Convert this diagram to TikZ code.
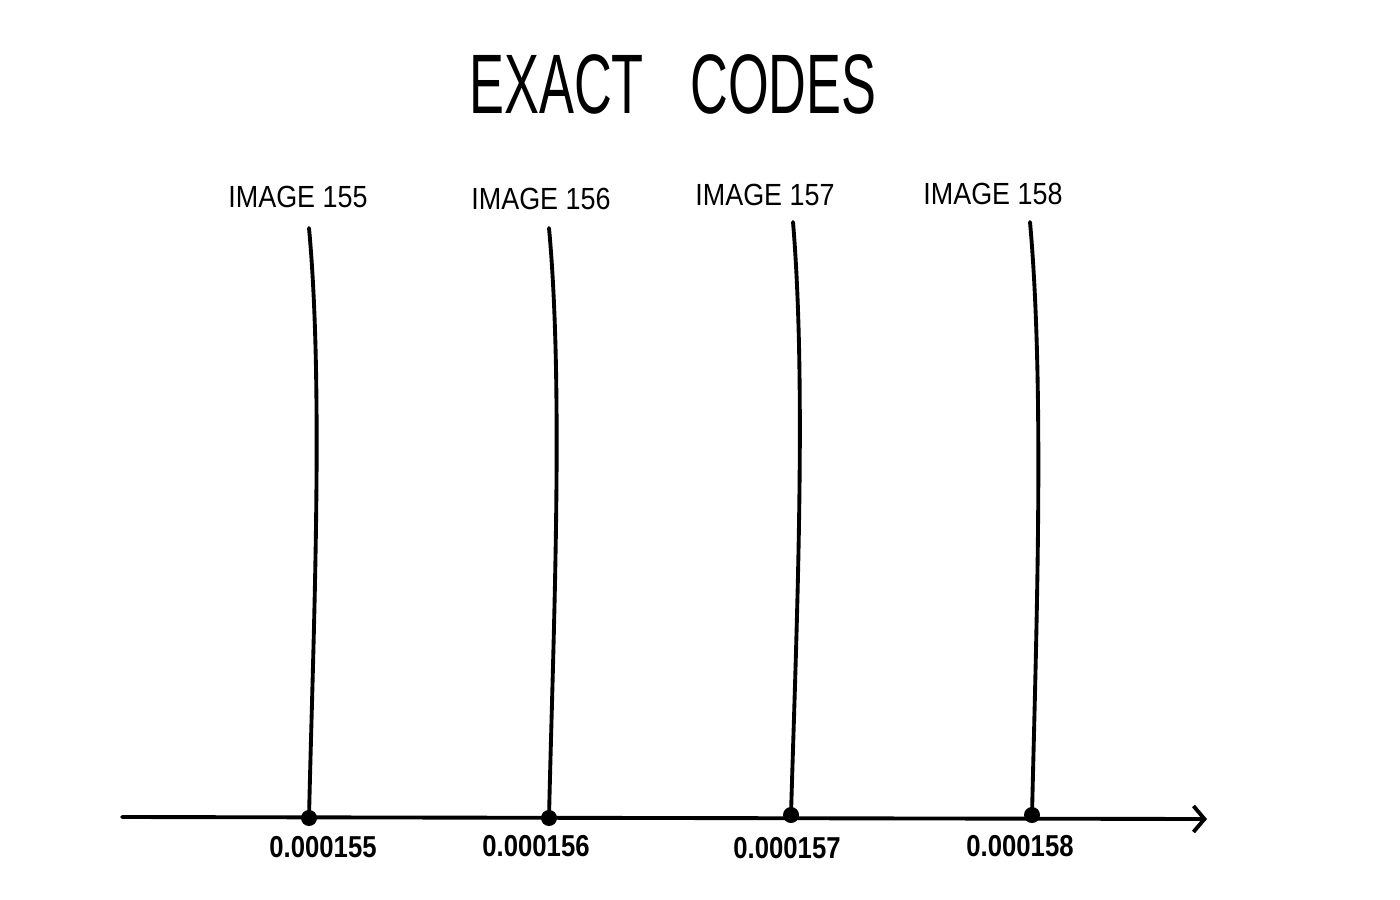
\documentclass[tikz,border=0pt]{standalone}
\usepackage{fontspec}
\setmainfont{Liberation Sans}
\usetikzlibrary{arrows.meta}
\tikzset{
  stroke/.style={line width=1.1pt, line cap=round, black},
  toplabel/.style={inner sep=0pt, font=\fontsize{8.7pt}{10pt}\selectfont},
  numlabel/.style={inner sep=0pt, font=\fontsize{8.6pt}{10pt}\selectfont\bfseries},
  dotnode/.style={circle, fill=black, inner sep=0pt, minimum size=0.16cm},
}
\begin{document}
\begin{tikzpicture}[x=0.01cm, y=-0.01cm]
\useasboundingbox[fill=white] (0,0) rectangle (1400,900);
% title
\node[inner sep=0pt, font=\fontsize{24pt}{28pt}\selectfont] (title) at (673,84)
  {\scalebox{0.62}[1]{EXACT\hspace{0.75cm}CODES}};
% top labels
\node[toplabel] (lab1) at (298,197) {\scalebox{0.88}[1]{IMAGE 155}};
\node[toplabel] (lab2) at (541,199) {\scalebox{0.88}[1]{IMAGE 156}};
\node[toplabel] (lab3) at (765,195) {\scalebox{0.88}[1]{IMAGE 157}};
\node[toplabel] (lab4) at (993,194) {\scalebox{0.88}[1]{IMAGE 158}};
% axis
\coordinate (axL) at (122,817);
\coordinate (axR) at (1207,819);
\draw[stroke, -{Straight Barb[length=0.11cm, width=0.26cm, line width=1.1pt]}] (axL) -- (axR);
% dots
\node[dotnode] (d1) at (309,818) {};
\node[dotnode] (d2) at (549,818) {};
\node[dotnode] (d3) at (791,815) {};
\node[dotnode] (d4) at (1032,815) {};
% tops of the lines
\coordinate (t1) at (309,228);
\coordinate (t2) at (549,228);
\coordinate (t3) at (793,222);
\coordinate (t4) at (1030,222);
\draw[stroke] (t1) .. controls (324,390) and (313,640) .. (d1.center);
\draw[stroke] (t2) .. controls (564,390) and (553,640) .. (d2.center);
\draw[stroke] (t3) .. controls (807,390) and (796,640) .. (d3.center);
\draw[stroke] (t4) .. controls (1045,390) and (1036,640) .. (d4.center);
% bottom labels
\node[numlabel] (n1) at (323,847) {\scalebox{0.85}[1]{0.000155}};
\node[numlabel] (n2) at (536,846) {\scalebox{0.85}[1]{0.000156}};
\node[numlabel] (n3) at (787,848) {\scalebox{0.85}[1]{0.000157}};
\node[numlabel] (n4) at (1020,846) {\scalebox{0.85}[1]{0.000158}};
\end{tikzpicture}
\end{document}
